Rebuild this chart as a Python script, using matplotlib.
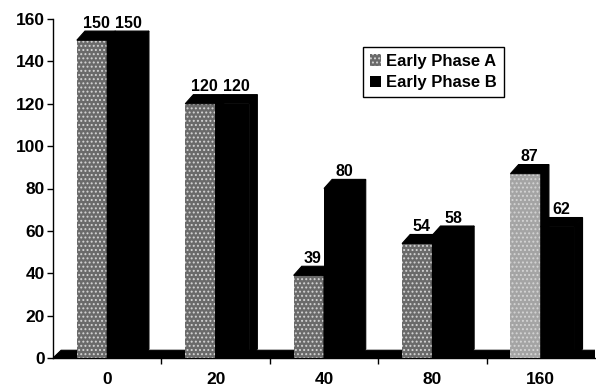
import matplotlib
matplotlib.use('Agg')
import matplotlib.pyplot as plt
from matplotlib.patches import Polygon, Patch

doses = ['0', '20', '40', '80', '160']
phase_a = [150, 120, 39, 54, 87]
phase_b = [150, 120, 80, 58, 62]

# face shade of the stippled A bars (the last one printed lighter)
a_shades = ['#6a6a6a', '#6a6a6a', '#6a6a6a', '#6a6a6a', '#a4a4a4']

plt.rcParams['font.family'] = ['Liberation Sans', 'DejaVu Sans']
plt.rcParams['font.weight'] = 'bold'
plt.rcParams['hatch.color'] = '#d4d4d4'
plt.rcParams['hatch.linewidth'] = 0.9

DX, DY = 0.075, 4.3      # depth of the 3d boxes, data units
W_A, W_B = 0.28, 0.31


def box3d(ax, left, width, height, face, hatch, z):
    ax.bar(left, height, width, align='edge', color=face, hatch=hatch,
           linewidth=0, zorder=z)
    top = [(left, height), (left + width, height),
           (left + width + DX, height + DY), (left + DX, height + DY)]
    side = [(left + width, 0), (left + width + DX, DY),
            (left + width + DX, height + DY), (left + width, height)]
    ax.add_patch(Polygon(top, closed=True, facecolor='black', edgecolor='black',
                         linewidth=0.8, zorder=z))
    ax.add_patch(Polygon(side, closed=True, facecolor='black', edgecolor='black',
                         linewidth=0.8, zorder=z))
    ax.text(left + width / 2 + DX / 2, height + DY + 0.2, str(height),
            ha='center', va='bottom', fontsize=11.5, fontweight='bold', zorder=z + 1)


fig = plt.figure(figsize=(5.96, 3.88), dpi=100)
ax = fig.add_axes([53 / 596, 30 / 388, 542 / 596, 339 / 388])

# floor of the 3d frame
floor = [(-0.5, 0), (4.5, 0), (4.5 + DX, DY * 0.85), (-0.5 + DX, DY * 0.85)]
ax.add_patch(Polygon(floor, closed=True, facecolor='black', edgecolor='black',
                     linewidth=0.8, zorder=1))

for i in range(len(doses)):
    z = 3 + 3 * i
    box3d(ax, i - W_A, W_A, phase_a[i], a_shades[i], '....', z)
    box3d(ax, i, W_B, phase_b[i], 'black', None, z + 1)

ax.set_xlim(-0.5, 4.5)
ax.set_ylim(0, 160)
ax.set_yticks(range(0, 161, 20))
ax.set_xticks(range(len(doses)))
ax.set_xticklabels(doses)
ax.set_xticks([0.5, 1.5, 2.5, 3.5], minor=True)
ax.tick_params(axis='x', which='major', length=0, pad=10, labelsize=12.5)
ax.tick_params(axis='x', which='minor', length=4, width=1, direction='out')
ax.tick_params(axis='y', length=4, width=1, pad=2, labelsize=12.5)
for lab in ax.get_xticklabels() + ax.get_yticklabels():
    lab.set_fontweight('bold')

ax.spines['top'].set_visible(False)
ax.spines['right'].set_visible(False)
ax.spines['left'].set_linewidth(1)
ax.spines['bottom'].set_linewidth(1)

handles = [Patch(facecolor=a_shades[0], hatch='....', linewidth=0),
           Patch(facecolor='black', linewidth=0)]
leg = fig.legend(handles, ['Early Phase A', 'Early Phase B'],
                 loc='upper left', bbox_to_anchor=(363 / 596, 1 - 47 / 388),
                 fancybox=False, edgecolor='black', framealpha=1,
                 prop={'weight': 'bold', 'size': 12},
                 handlelength=0.7, handleheight=0.7, handletextpad=0.3,
                 borderpad=0.4, labelspacing=0.4, borderaxespad=0)
leg.get_frame().set_linewidth(1)

fig.savefig('out.png', dpi=100)
